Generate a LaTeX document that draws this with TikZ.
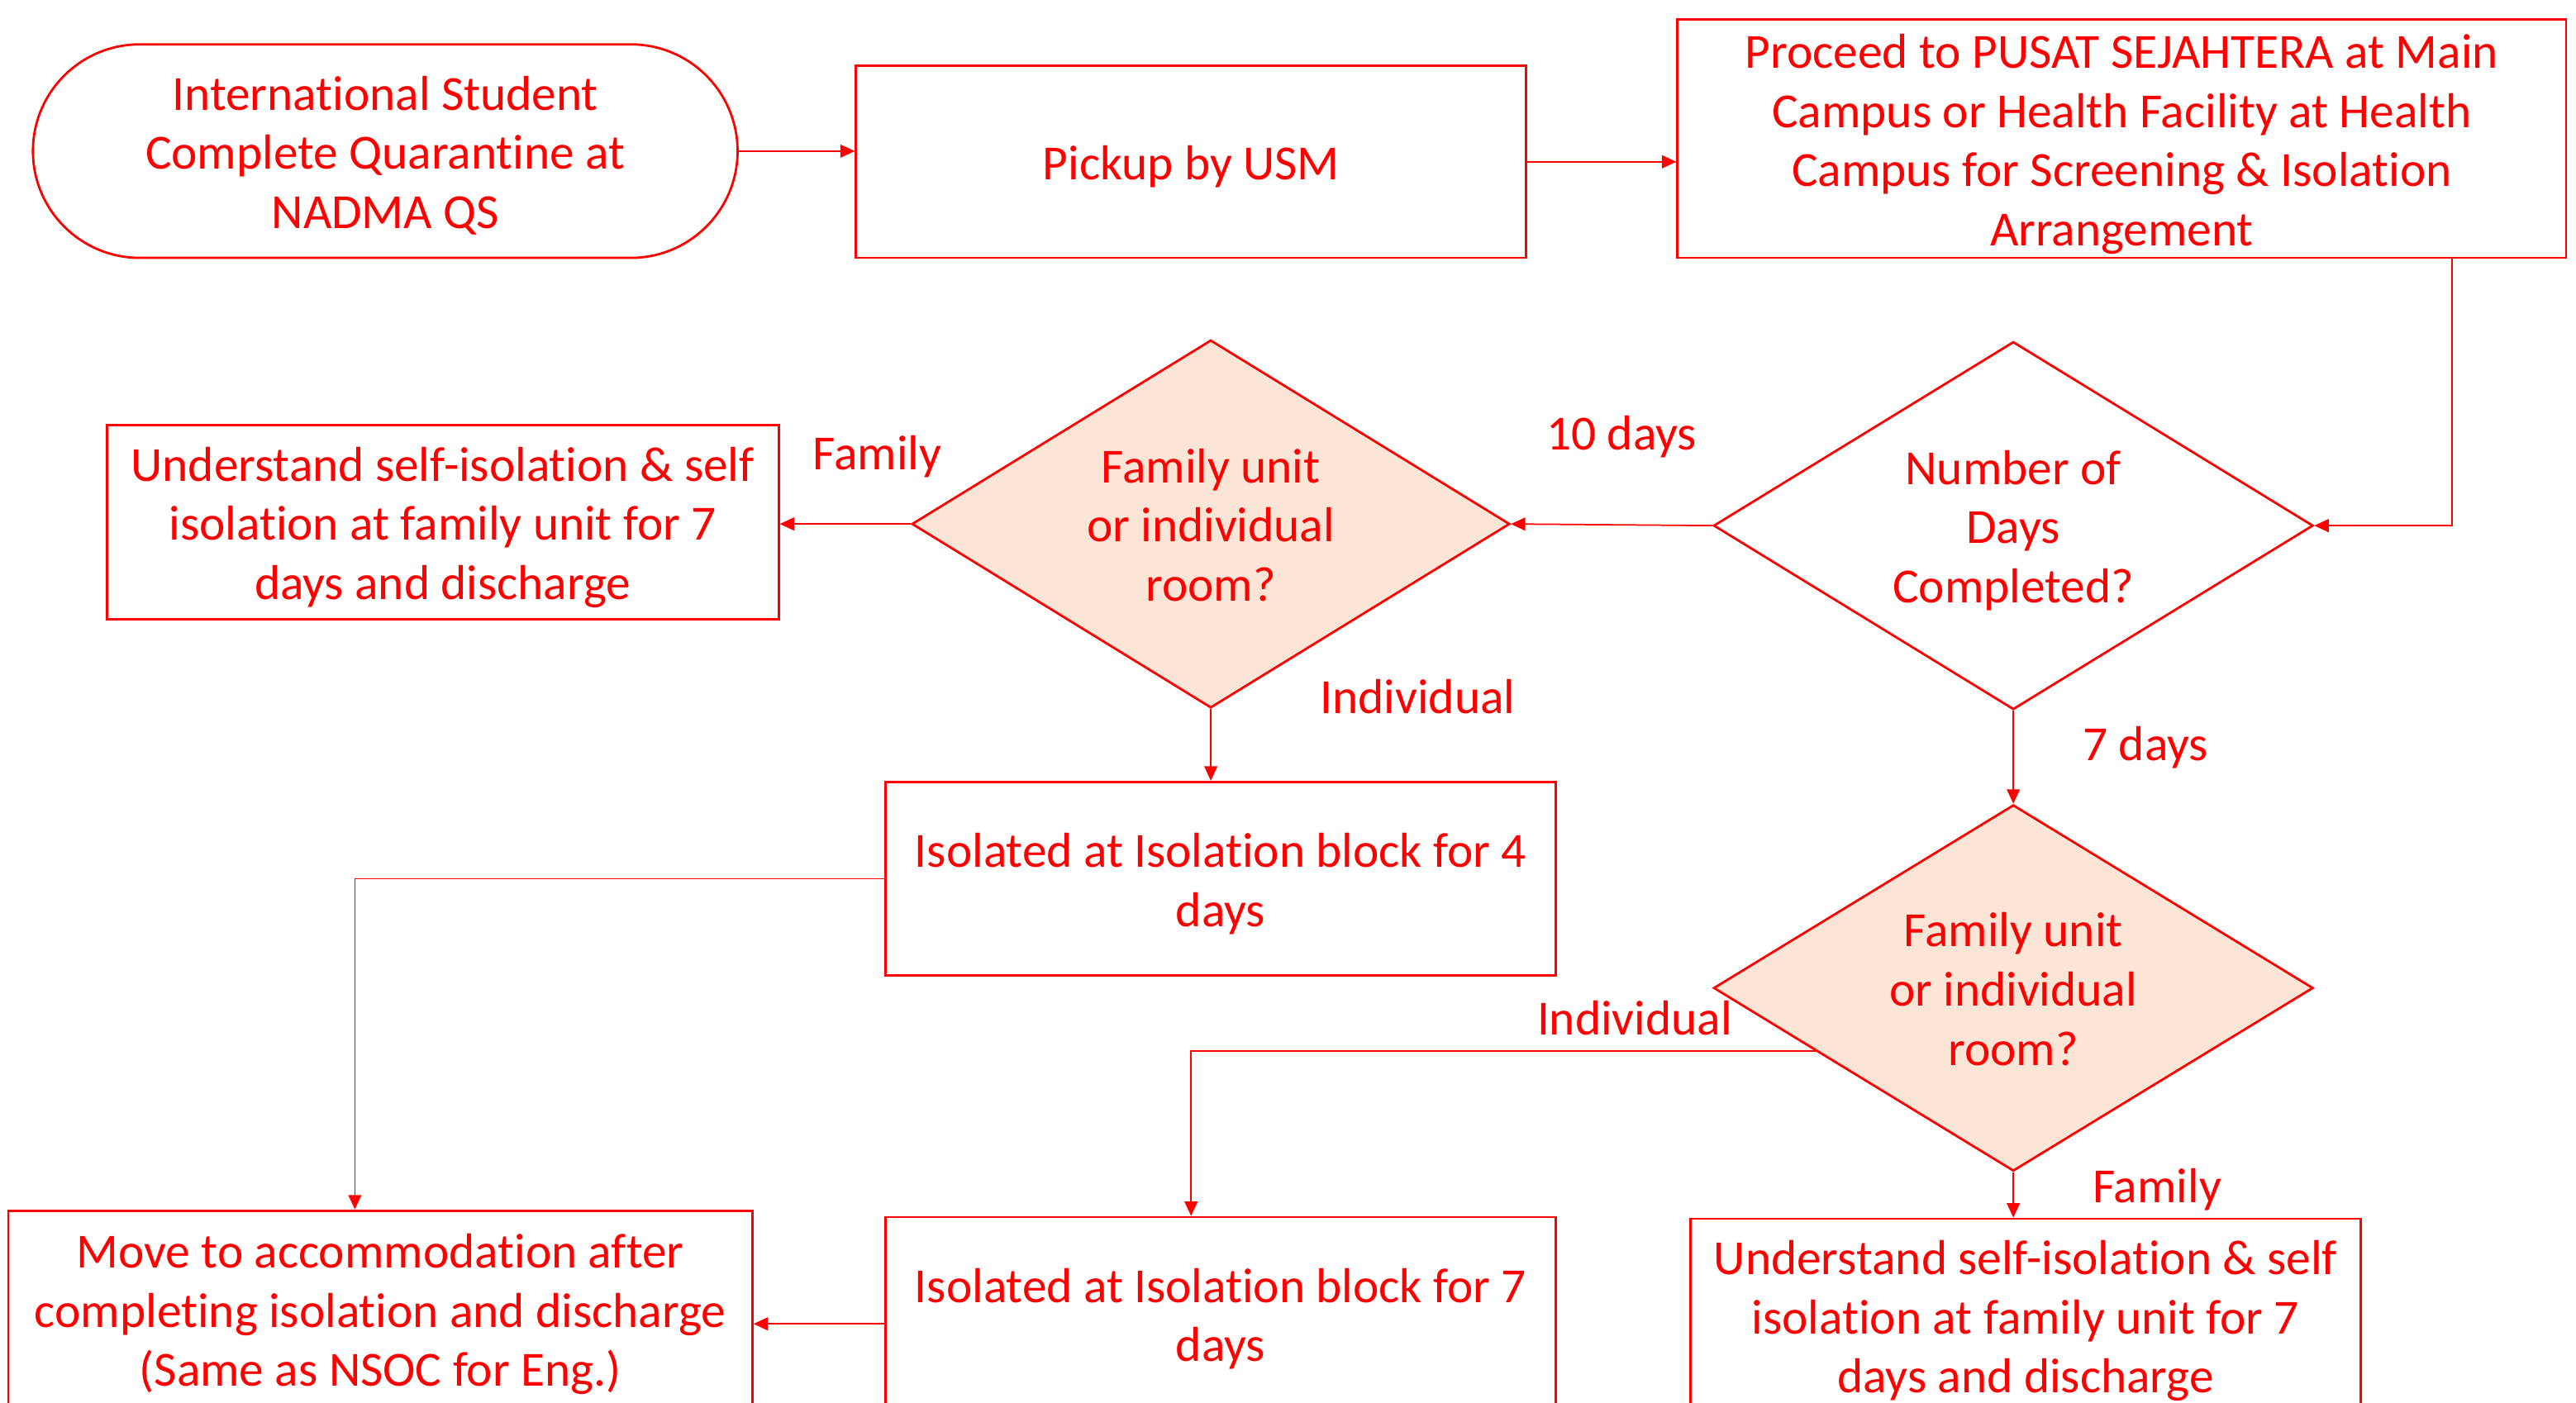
\documentclass[tikz,border=0pt]{standalone}
\usepackage{fontspec}
\setmainfont{Carlito}[Ligatures=NoCommon]
\usetikzlibrary{shapes.geometric,arrows.meta,calc}
\definecolor{rd}{HTML}{FF0000}
\definecolor{peach}{HTML}{FBE5D6}
\newcommand\tsa{\rule{0pt}{16.75pt}}
\newcommand\tsb{\rule[-4.25pt]{0pt}{0pt}}
\begin{document}
\begin{tikzpicture}[x=0.02cm,y=-0.02cm,
 every node/.style={font=\fontsize{17}{20.5}\selectfont, text=rd, align=center, inner sep=0pt},
 box/.style={draw=rd, line width=0.8pt, rectangle},
 dec/.style={draw=rd, line width=0.8pt, diamond, aspect=1.63},
 conn/.style={draw=rd, line width=0.5pt, -{Triangle[length=5pt,width=4.5pt]}}
]
\useasboundingbox (0,0) rectangle (1568,854.17);
\clip (0,0) rectangle (1568,854.17);

\node[box, rounded corners=1.3cm, minimum width=8.58cm, minimum height=2.6cm] (pill) at (234.5,92)
 {\tsa International Student\\Complete Quarantine at\\NADMA QS\tsb};
\node[box, minimum width=8.16cm, minimum height=2.34cm] (pickup) at (725,98.5) {\tsa Pickup by USM\tsb};
\node[box, minimum width=10.82cm, minimum height=2.9cm] (proceed) at (1291.5,84.5)
 {\tsa Proceed to PUSAT SEJAHTERA at Main\\Campus or Health Facility at Health\\Campus for Screening \& Isolation\\Arrangement\tsb};
\node[dec, fill=white, minimum width=7.3cm, minimum height=4.48cm] (d1) at (1225.5,320)
 {\tsa Number of\\Days\\Completed?\tsb};
\node[dec, fill=peach, minimum width=7.28cm, minimum height=4.48cm] (d2) at (737,319)
 {\tsa Family unit\\or individual\\room?\tsb};
\node[dec, fill=peach, minimum width=7.3cm, minimum height=4.46cm] (d3) at (1225.5,601.5)
 {\tsa Family unit\\or individual\\room?\tsb};
\node[box, minimum width=8.18cm, minimum height=2.36cm] (und1) at (269.5,318)
 {\tsa Understand self-isolation \& self\\isolation at family unit for 7\\days and discharge\tsb};
\node[box, minimum width=8.16cm, minimum height=2.36cm] (iso4) at (743,535)
 {\tsa Isolated at Isolation block for 4\\days\tsb};
\node[box, minimum width=9.06cm, minimum height=2.4cm] (move) at (231.5,797)
 {\tsa Move to accommodation after\\completing isolation and discharge\\(Same as NSOC for Eng.)\tsb};
\node[box, minimum width=8.16cm, minimum height=2.36cm] (iso7) at (743,800)
 {\tsa Isolated at Isolation block for 7\\days\tsb};
\node[box, minimum width=8.16cm, minimum height=2.36cm] (und2) at (1233,801)
 {\tsa Understand self-isolation \& self\\isolation at family unit for 7\\days and discharge\tsb};

% connectors
\draw[conn] (pill.east) -- (pill.east -| pickup.west);
\draw[conn] (pickup.east) -- (pickup.east -| proceed.west);
\draw[conn] ([xshift=-1.4cm]proceed.south east) |- (d1.east);
\draw[conn] (d1.west) -- (d2.east);
\draw[conn] (d2.west) -- (d2.west -| und1.east);
\draw[conn] (d2.south) -- (d2.south |- iso4.north);
\draw[conn] (iso4.west) -| ([xshift=-0.31cm]move.north);
\draw[conn] (d1.south) -- (d3.north);
\draw[conn] ($(d3.west)!0.342!(d3.south)$) -| ([xshift=-0.36cm]iso7.north);
\draw[conn] (d3.south) -- (d3.south |- und2.north);
\draw[conn] ([yshift=-0.12cm]iso7.west) -- ([yshift=-0.12cm]iso7.west -| move.east);

% labels
\node (l10) at (987,266) {10 days};
\node (lfam1) at (534,278) {Family};
\node (lind1) at (863,424) {Individual};
\node (l7) at (1306,455) {7 days};
\node (lind2) at (995,620) {Individual};
\node (lfam2) at (1313,724) {Family};
\end{tikzpicture}
\end{document}
